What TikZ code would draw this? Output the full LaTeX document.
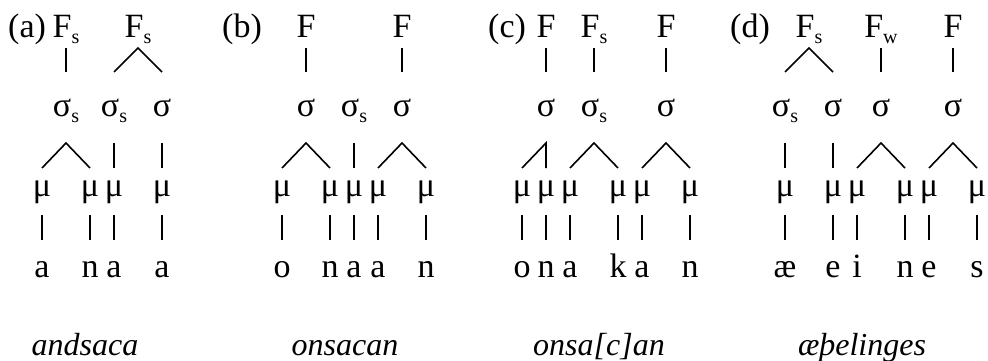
\documentclass[tikz,border=0pt]{standalone}
\usepackage{fontspec}
\setmainfont{Liberation Serif}
\newcommand{\lsub}[1]{\raisebox{-5.5pt}{\fontsize{20}{20}\selectfont #1}}
\tikzset{
  lab/.style={anchor=base, inner sep=0pt, font=\fontsize{34}{36}\selectfont},
  tag/.style={anchor=base west, inner sep=0pt, font=\fontsize{34}{36}\selectfont},
  gloss/.style={anchor=base, inner sep=0pt, font=\fontsize{32}{36}\selectfont\itshape},
  edge/.style={line width=1.6pt}
}
\begin{document}
\begin{tikzpicture}[x=1pt,y=-1pt]
\useasboundingbox (0,0) rectangle (988,361);
\coordinate (T1) at (0,48);  \coordinate (B1) at (0,72);
\coordinate (T2) at (0,143); \coordinate (B2) at (0,168);
\coordinate (T3) at (0,215); \coordinate (B3) at (0,240);
% ---------------- (a)
\node[tag] (ta) at (8,38) {(a)};
\node[lab] (aF1) at (66,38) {F\lsub{s}};
\node[lab] (aF2) at (138,38) {F\lsub{s}};
\node[lab] (as1) at (66,117) {σ\lsub{s}};
\node[lab] (as2) at (114,117) {σ\lsub{s}};
\node[lab] (as3) at (162,117) {σ};
\node[lab] (am0) at (42,196) {μ};
\node[lab] (am2) at (90,196) {μ};
\node[lab] (am3) at (114,196) {μ};
\node[lab] (am5) at (162,196) {μ};
\node[lab] (ag0) at (42,277) {a};
\node[lab] (ag2) at (90,277) {n};
\node[lab] (ag3) at (114,277) {a};
\node[lab] (ag5) at (162,277) {a};
\draw[edge] (aF1 |- T1) -- (as1 |- B1);
\draw[edge] (as2 |- B1) -- (aF2 |- T1) -- (as3 |- B1);
\draw[edge] (am0 |- B2) -- (as1 |- T2) -- (am2 |- B2);
\draw[edge] (as2 |- T2) -- (am3 |- B2);
\draw[edge] (as3 |- T2) -- (am5 |- B2);
\foreach \m/\g in {am0/ag0,am2/ag2,am3/ag3,am5/ag5}
  \draw[edge] (\m |- T3) -- (\g |- B3);
\node[gloss] (wa) at (85,355) {andsaca};
% ---------------- (b)
\node[tag] (tb) at (222,38) {(b)};
\node[lab] (bF1) at (306,38) {F};
\node[lab] (bF2) at (402,38) {F};
\node[lab] (bs1) at (306,117) {σ};
\node[lab] (bs2) at (354,117) {σ\lsub{s}};
\node[lab] (bs3) at (402,117) {σ};
\node[lab] (bm0) at (282,196) {μ};
\node[lab] (bm2) at (330,196) {μ};
\node[lab] (bm3) at (354,196) {μ};
\node[lab] (bm4) at (378,196) {μ};
\node[lab] (bm6) at (426,196) {μ};
\node[lab] (bg0) at (282,277) {o};
\node[lab] (bg2) at (330,277) {n};
\node[lab] (bg3) at (354,277) {a};
\node[lab] (bg4) at (378,277) {a};
\node[lab] (bg6) at (426,277) {n};
\draw[edge] (bF1 |- T1) -- (bs1 |- B1);
\draw[edge] (bF2 |- T1) -- (bs3 |- B1);
\draw[edge] (bm0 |- B2) -- (bs1 |- T2) -- (bm2 |- B2);
\draw[edge] (bs2 |- T2) -- (bm3 |- B2);
\draw[edge] (bm4 |- B2) -- (bs3 |- T2) -- (bm6 |- B2);
\foreach \m/\g in {bm0/bg0,bm2/bg2,bm3/bg3,bm4/bg4,bm6/bg6}
  \draw[edge] (\m |- T3) -- (\g |- B3);
\node[gloss] (wb) at (345,355) {onsacan};
% ---------------- (c)
\node[tag] (tc) at (488,38) {(c)};
\node[lab] (cF1) at (546,38) {F};
\node[lab] (cF2) at (594,38) {F\lsub{s}};
\node[lab] (cF3) at (666,38) {F};
\node[lab] (cs1) at (546,117) {σ};
\node[lab] (cs2) at (594,117) {σ\lsub{s}};
\node[lab] (cs3) at (666,117) {σ};
\node[lab] (cm0) at (522,196) {μ};
\node[lab] (cm1) at (546,196) {μ};
\node[lab] (cm2) at (570,196) {μ};
\node[lab] (cm4) at (618,196) {μ};
\node[lab] (cm5) at (642,196) {μ};
\node[lab] (cm7) at (690,196) {μ};
\node[lab] (cg0) at (522,277) {o};
\node[lab] (cg1) at (546,277) {n};
\node[lab] (cg2) at (570,277) {a};
\node[lab] (cg4) at (618,277) {k};
\node[lab] (cg5) at (642,277) {a};
\node[lab] (cg7) at (690,277) {n};
\draw[edge] (cF1 |- T1) -- (cs1 |- B1);
\draw[edge] (cF2 |- T1) -- (cs2 |- B1);
\draw[edge] (cF3 |- T1) -- (cs3 |- B1);
\draw[edge] (cm0 |- B2) -- (cs1 |- T2) -- (cm1 |- B2);
\draw[edge] (cm2 |- B2) -- (cs2 |- T2) -- (cm4 |- B2);
\draw[edge] (cm5 |- B2) -- (cs3 |- T2) -- (cm7 |- B2);
\foreach \m/\g in {cm0/cg0,cm1/cg1,cm2/cg2,cm4/cg4,cm5/cg5,cm7/cg7}
  \draw[edge] (\m |- T3) -- (\g |- B3);
\node[gloss] (wc) at (599,355) {onsa[c]an};
% ---------------- (d)
\node[tag] (td) at (730,38) {(d)};
\node[lab] (dF1) at (809,38) {F\lsub{s}};
\node[lab] (dF2) at (881,38) {F\lsub{w}};
\node[lab] (dF3) at (953,38) {F};
\node[lab] (ds0) at (785,117) {σ\lsub{s}};
\node[lab] (ds2) at (833,117) {σ};
\node[lab] (ds4) at (881,117) {σ};
\node[lab] (ds7) at (953,117) {σ};
\node[lab] (dm0) at (785,196) {μ};
\node[lab] (dm2) at (833,196) {μ};
\node[lab] (dm3) at (857,196) {μ};
\node[lab] (dm5) at (905,196) {μ};
\node[lab] (dm6) at (929,196) {μ};
\node[lab] (dm8) at (977,196) {μ};
\node[lab] (dg0) at (785,277) {æ};
\node[lab] (dg2) at (833,277) {e};
\node[lab] (dg3) at (857,277) {i};
\node[lab] (dg5) at (905,277) {n};
\node[lab] (dg6) at (929,277) {e};
\node[lab] (dg8) at (977,277) {s};
\draw[edge] (ds0 |- B1) -- (dF1 |- T1) -- (ds2 |- B1);
\draw[edge] (dF2 |- T1) -- (ds4 |- B1);
\draw[edge] (dF3 |- T1) -- (ds7 |- B1);
\draw[edge] (ds0 |- T2) -- (dm0 |- B2);
\draw[edge] (ds2 |- T2) -- (dm2 |- B2);
\draw[edge] (dm3 |- B2) -- (ds4 |- T2) -- (dm5 |- B2);
\draw[edge] (dm6 |- B2) -- (ds7 |- T2) -- (dm8 |- B2);
\foreach \m/\g in {dm0/dg0,dm2/dg2,dm3/dg3,dm5/dg5,dm6/dg6,dm8/dg8}
  \draw[edge] (\m |- T3) -- (\g |- B3);
\node[gloss] (wd) at (862,355) {æþelinges};
\end{tikzpicture}
\end{document}
